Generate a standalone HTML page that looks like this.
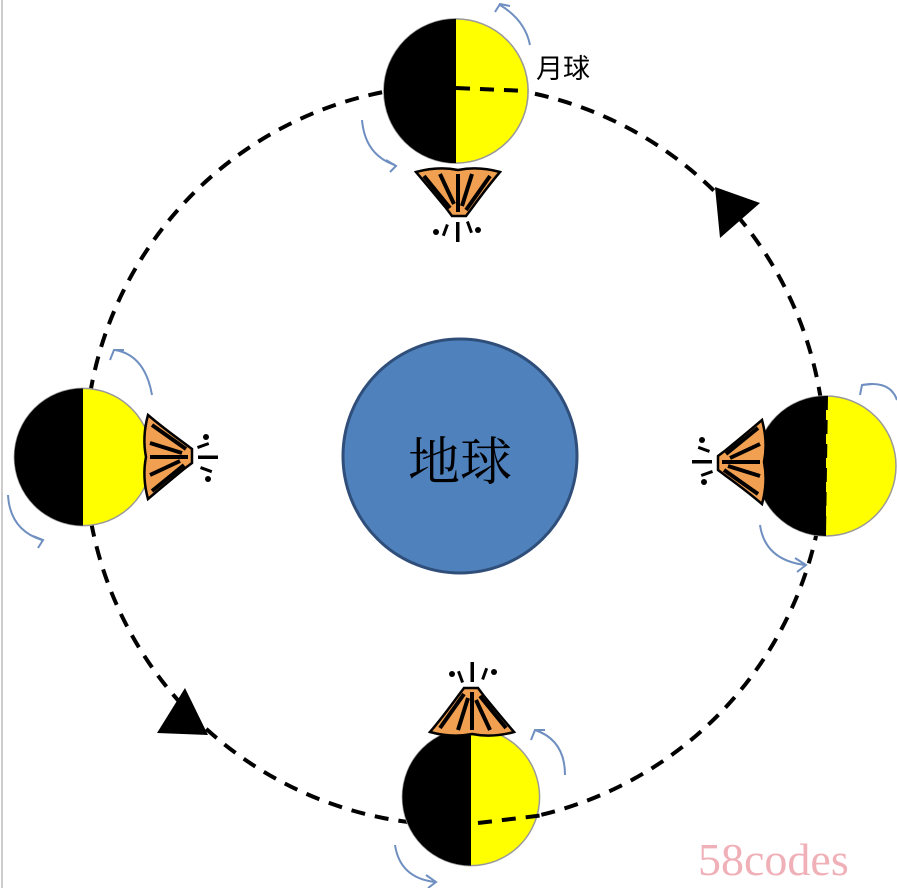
<!DOCTYPE html>
<html><head><meta charset="utf-8"><style>
html,body{margin:0;padding:0;background:#fff;width:897px;height:888px;overflow:hidden}
</style></head><body>
<svg width="897" height="888" viewBox="0 0 897 888" xmlns="http://www.w3.org/2000/svg">
<line x1="2" y1="0" x2="2" y2="888" stroke="#ccc" stroke-width="2"/>
<circle cx="455" cy="455" r="370" fill="none" stroke="#000" stroke-width="4" stroke-dasharray="14,10"/>
<polygon points="715,187 760,203 720,238" fill="#000"/>
<polygon points="157,733 185,688 208,735" fill="#000"/>
<circle cx="460" cy="456" r="117" fill="#4f81bd" stroke="#2f4f7a" stroke-width="3"/>
<text x="460" y="480" font-family="Liberation Serif, Noto Serif CJK SC, serif" font-size="52" text-anchor="middle" fill="#000">地球</text>
<text x="536" y="78" font-family="Liberation Sans, Noto Sans CJK SC, sans-serif" font-size="27" fill="#000">月球</text>
<defs>
<g id="moon">
<circle r="70" fill="#ffff00" stroke="#999" stroke-width="1.5"/>
<path d="M0,-70 A70,70 0 0 0 0,70 Z" fill="#000"/>
</g>
<g id="volc">
<path d="M-42,-2 Q-30,12 -12,34 L-6,42 L8,42 L14,34 Q30,12 42,-2 Q20,-8 0,-4 Q-20,-8 -42,-2 Z" fill="#f0a050" stroke="#000" stroke-width="2.5"/>
<path d="M-34,2 L-8,34 M-18,0 L-4,30 M0,0 L0,38 M14,0 L4,32 M32,2 L8,36" stroke="#000" stroke-width="4"/>
<g fill="#000"><circle cx="-22" cy="58" r="3"/><circle cx="20" cy="56" r="3"/><rect x="-2" y="48" width="3.5" height="20"/><rect x="-12" y="50" width="3" height="12" transform="rotate(20 -12 50)"/><rect x="8" y="48" width="3" height="12" transform="rotate(-20 8 48)"/></g>
</g>
</defs>
<use href="#moon" transform="translate(456,91) scale(1.03)"/>
<line x1="456" y1="88" x2="528" y2="91" stroke="#000" stroke-width="4" stroke-dasharray="14,10"/>
<use href="#volc" transform="translate(458,174)"/>
<use href="#moon" transform="translate(83,457) scale(0.98)"/>
<use href="#volc" transform="translate(150,457) rotate(-90)"/>
<use href="#moon" transform="translate(826,466)"/>
<line x1="826" y1="396" x2="824" y2="536" stroke="#000" stroke-width="4" stroke-dasharray="14,10"/>
<use href="#volc" transform="translate(760,462) rotate(90)"/>
<use href="#moon" transform="translate(471,797) scale(0.98)"/>
<line x1="478" y1="823" x2="545" y2="815" stroke="#000" stroke-width="4" stroke-dasharray="14,10"/>
<use href="#volc" transform="translate(472,730) rotate(180)"/>
<g fill="none" stroke="#6f8fc0" stroke-width="2">
<path d="M500,5 Q525,20 530,45"/><path d="M495,12 L500,4 L510,6"/>
<path d="M362,120 Q365,155 395,165"/><path d="M386,160 L396,166 L390,172"/>
<path d="M115,350 Q145,355 152,395"/><path d="M110,360 L114,350 L124,350"/>
<path d="M8,495 Q10,530 42,540"/><path d="M33,536 L43,540 L38,548"/>
<path d="M862,385 Q890,380 897,400"/><path d="M860,395 L862,385 L872,384"/>
<path d="M760,525 Q765,560 805,565"/><path d="M795,558 L806,565 L797,572"/>
<path d="M535,730 Q565,740 565,775"/><path d="M531,740 L535,730 L545,730"/>
<path d="M395,845 Q400,878 435,882"/><path d="M426,875 L436,882 L428,888"/>
</g>
<text x="698" y="875" font-family="Liberation Serif, serif" font-size="46" fill="#f0b0b8">58codes</text>
</svg>
</body></html>
